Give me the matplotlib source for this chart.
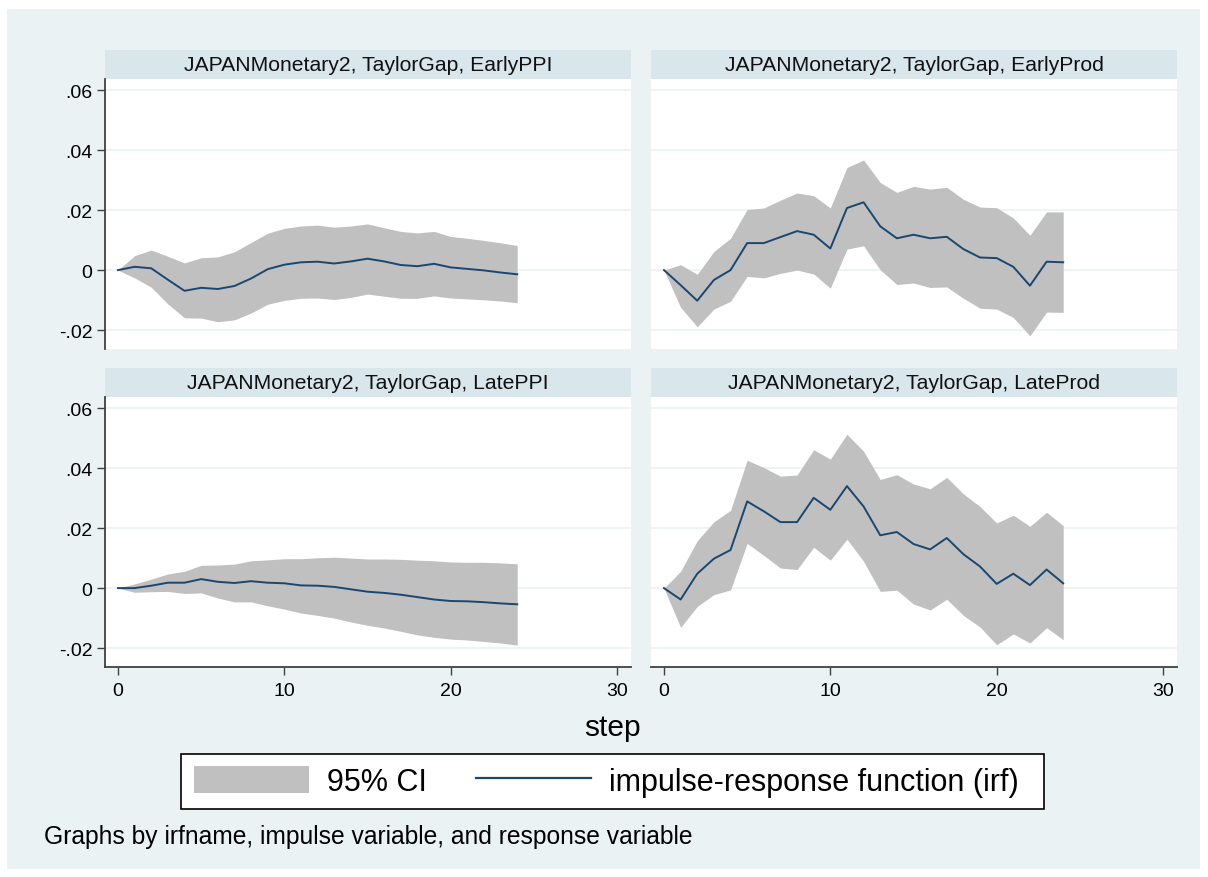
import numpy as np
import matplotlib
matplotlib.use("Agg")
import matplotlib.pyplot as plt
from matplotlib.patches import Rectangle, Patch
from matplotlib.lines import Line2D

plt.rcParams['font.family'] = ['Liberation Sans', 'DejaVu Sans']

# steps 0..24
steps = list(range(25))

# EarlyPPI
early_ppi_irf = [0, 0.0011, 0.0006, -0.0032, -0.0069, -0.0059, -0.0063, -0.0053, -0.0028, 0.0003,
                 0.0018, 0.0026, 0.0028, 0.0022, 0.0029, 0.0038, 0.0029, 0.0017, 0.0013, 0.0021,
                 0.0009, 0.0004, -0.0001, -0.0008, -0.0014]
early_ppi_hi = [0, 0.0048, 0.0067, 0.0046, 0.0024, 0.0041, 0.0044, 0.0061, 0.0092, 0.0123,
                0.0139, 0.0147, 0.0150, 0.0143, 0.0147, 0.0154, 0.0141, 0.0129, 0.0124, 0.0129,
                0.0112, 0.0106, 0.0099, 0.0091, 0.0082]
early_ppi_lo = [0, -0.0026, -0.0057, -0.0113, -0.0159, -0.0160, -0.0172, -0.0166, -0.0143, -0.0114,
                -0.0101, -0.0094, -0.0093, -0.0098, -0.0091, -0.0080, -0.0087, -0.0094, -0.0094, -0.0086,
                -0.0093, -0.0096, -0.0099, -0.0103, -0.0109]

# EarlyProd
early_prod_irf = [0, -0.0050, -0.0102, -0.0033, 0.0000, 0.0090, 0.0090, 0.0110, 0.0130, 0.0118,
                  0.0072, 0.0207, 0.0226, 0.0146, 0.0106, 0.0118, 0.0106, 0.0111, 0.0070, 0.0042,
                  0.0040, 0.0011, -0.0052, 0.0028, 0.0026]
early_prod_hi = [0, 0.0018, -0.0014, 0.0062, 0.0106, 0.0202, 0.0207, 0.0233, 0.0257, 0.0248,
                 0.0207, 0.0342, 0.0367, 0.0292, 0.0259, 0.0279, 0.0270, 0.0276, 0.0236, 0.0210,
                 0.0208, 0.0174, 0.0116, 0.0194, 0.0194]
early_prod_lo = [0, -0.0124, -0.0189, -0.0130, -0.0104, -0.0021, -0.0026, -0.0011, 0.0000, -0.0013,
                 -0.0060, 0.0070, 0.0081, 0.0001, -0.0048, -0.0043, -0.0058, -0.0056, -0.0094, -0.0127,
                 -0.0130, -0.0158, -0.0219, -0.0140, -0.0141]

# LatePPI
late_ppi_irf = [0, 0, 0.0008, 0.0018, 0.0018, 0.0030, 0.0021, 0.0017, 0.0023, 0.0018,
                0.0016, 0.0009, 0.0008, 0.0004, -0.0004, -0.0012, -0.0016, -0.0022, -0.0030, -0.0038,
                -0.0043, -0.0044, -0.0047, -0.0051, -0.0054]
late_ppi_hi = [0, 0.0014, 0.0030, 0.0047, 0.0056, 0.0076, 0.0077, 0.0080, 0.0091, 0.0094,
               0.0098, 0.0098, 0.0101, 0.0103, 0.0100, 0.0097, 0.0097, 0.0096, 0.0093, 0.0091,
               0.0087, 0.0086, 0.0086, 0.0084, 0.0081]
late_ppi_lo = [0, -0.0014, -0.0012, -0.0011, -0.0018, -0.0016, -0.0033, -0.0046, -0.0046, -0.0059,
               -0.0070, -0.0083, -0.0091, -0.0100, -0.0113, -0.0124, -0.0133, -0.0144, -0.0156, -0.0164,
               -0.0170, -0.0173, -0.0178, -0.0183, -0.0190]

# LateProd
late_prod_irf = [0, -0.0038, 0.0048, 0.0098, 0.0127, 0.0289, 0.0256, 0.0220, 0.0220, 0.0301,
                 0.0261, 0.0340, 0.0272, 0.0176, 0.0187, 0.0147, 0.0129, 0.0167, 0.0113, 0.0072,
                 0.0014, 0.0048, 0.0010, 0.0062, 0.0016]
late_prod_hi = [0, 0.0056, 0.0158, 0.0221, 0.0259, 0.0426, 0.0402, 0.0373, 0.0377, 0.0461,
                0.0430, 0.0513, 0.0456, 0.0362, 0.0378, 0.0347, 0.0331, 0.0369, 0.0314, 0.0272,
                0.0217, 0.0243, 0.0206, 0.0253, 0.0208]
late_prod_lo = [0, -0.0131, -0.0061, -0.0022, -0.0006, 0.0149, 0.0109, 0.0067, 0.0062, 0.0136,
                0.0093, 0.0163, 0.0089, -0.0011, -0.0007, -0.0053, -0.0073, -0.0037, -0.0091, -0.0130,
                -0.0189, -0.0153, -0.0183, -0.0132, -0.0172]

titles = ["JAPANMonetary2, TaylorGap, EarlyPPI", "JAPANMonetary2, TaylorGap, EarlyProd",
          "JAPANMonetary2, TaylorGap, LatePPI", "JAPANMonetary2, TaylorGap, LateProd"]
yticks = [-0.02, 0, 0.02, 0.04, 0.06]
ytick_labels = ["-.02", "0", ".02", ".04", ".06"]
xticks = [0, 10, 20, 30]

panels = [(early_ppi_irf, early_ppi_lo, early_ppi_hi),
          (early_prod_irf, early_prod_lo, early_prod_hi),
          (late_ppi_irf, late_ppi_lo, late_ppi_hi),
          (late_prod_irf, late_prod_lo, late_prod_hi)]

BG = '#EAF2F3'
STRIP = '#D9E6EB'
CI = '#C0C0C0'
LINE = '#1A476F'
AXC = '#404040'

W, H = 1208, 878
fig = plt.figure(figsize=(W / 100, H / 100), dpi=100, facecolor='white')
fig.patches.append(Rectangle((7 / W, 1 - 870 / H), 1193 / W, 860 / H,
                             transform=fig.transFigure, facecolor=BG, edgecolor='none', zorder=-10))


def px_axes(x0, y0, x1, y1):
    return fig.add_axes([x0 / W, 1 - y1 / H, (x1 - x0) / W, (y1 - y0) / H])


boxes = [(105, 80, 631, 350), (651, 80, 1177, 350),
         (105, 398, 631, 668), (651, 398, 1177, 668)]

for i, ((x0, y0, x1, y1), (irf, lo, hi), title) in enumerate(zip(boxes, panels, titles)):
    # strip on top
    sax = px_axes(x0, y0 - 29, x1, y0)
    sax.set_facecolor(STRIP)
    sax.set_xticks([])
    sax.set_yticks([])
    for s in sax.spines.values():
        s.set_visible(False)
    sax.text(0.5, 0.5, title, ha='center', va='center', fontsize=15.2, color='#111111',
             transform=sax.transAxes)

    ax = px_axes(x0, y0, x1, y1)
    ax.set_facecolor('white')
    ax.fill_between(steps, lo, hi, color=CI, linewidth=0, zorder=2)
    ax.plot(steps, irf, color=LINE, linewidth=1.4, zorder=3)
    ax.set_xlim(-0.78, 30.84)
    ax.set_ylim(-0.0263, 0.0637)
    ax.set_yticks(yticks)
    ax.set_xticks(xticks)
    ax.grid(axis='y', color=BG, linewidth=1.2, zorder=1)
    ax.set_axisbelow(True)
    for s in ['top', 'right']:
        ax.spines[s].set_visible(False)
    left = i % 2 == 0
    bottom = i >= 2
    ax.spines['left'].set_visible(left)
    ax.spines['bottom'].set_visible(bottom)
    ax.spines['left'].set_color(AXC)
    ax.spines['bottom'].set_color(AXC)
    ax.spines['left'].set_linewidth(1.3)
    ax.spines['bottom'].set_linewidth(1.3)
    ax.tick_params(axis='y', left=left, labelleft=left, length=6, width=1, color=AXC,
                   labelsize=14, pad=3)
    ax.tick_params(axis='x', bottom=bottom, labelbottom=bottom, length=6, width=1, color=AXC,
                   labelsize=14, pad=5)
    if left:
        ax.set_yticklabels(ytick_labels)

fig.text(612 / W, 1 - 728 / H, "step", ha='center', va='center', fontsize=21.5)

# legend frame drawn separately (Stata leaves extra room on the right)
fig.patches.append(Rectangle((181 / W, 1 - 810 / H), 863 / W, 55 / H, transform=fig.transFigure,
                             facecolor='white', edgecolor='black', linewidth=1.2, zorder=5))
handles = [Patch(facecolor=CI, edgecolor='none'), Line2D([0], [0], color=LINE, linewidth=1.6)]
leg = fig.legend(handles, ["95% CI", "impulse-response function (irf)"], ncol=2,
                 loc='center left', bbox_to_anchor=(194 / W, 1 - 782.5 / H),
                 fontsize=22, frameon=False,
                 handlelength=3.76, handleheight=1.0, handletextpad=0.6, columnspacing=1.6,
                 borderpad=0, borderaxespad=0)
leg.set_zorder(6)

fig.text(44 / W, 1 - 837 / H, "Graphs by irfname, impulse variable, and response variable",
         ha='left', va='center', fontsize=17.7)

fig.savefig("out.png", dpi=100, facecolor='white')
